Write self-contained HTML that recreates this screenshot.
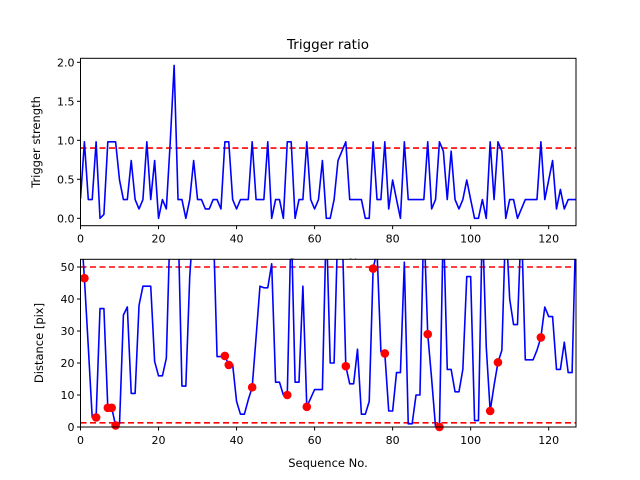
<!DOCTYPE html>
<html><head><meta charset="utf-8"><style>
body{margin:0;background:#fff}
svg{display:block;font-family:"DejaVu Sans","Liberation Sans",sans-serif}
</style></head><body>
<svg id="chart" width="640" height="480" viewBox="0 0 640 480"></svg>
<script>
const seqIdx = Array.from({length:128},(_,i)=>i);
const ratioVals = [0.25,0.98,0.24,0.24,0.98,0,0.05,0.98,0.98,0.98,0.49,0.24,0.24,0.74,0.24,0.12,0.24,0.98,0.24,0.74,0,0.24,0.12,0.98,1.96,0.24,0.24,0,0.24,0.74,0.24,0.24,0.12,0.12,0.24,0.24,0.12,0.98,0.98,0.24,0.12,0.24,0.24,0.24,0.98,0.24,0.24,0.24,0.98,0,0.24,0.24,0,0.98,0.98,0,0.24,0.24,0.98,0.24,0.12,0.24,0.74,0,0,0.24,0.74,0.86,0.98,0.24,0.24,0.24,0.24,0,0,0.98,0.24,0.24,0.98,0.12,0.49,0.24,0,0.98,0.24,0.24,0.24,0.24,0.24,0.98,0.12,0.24,0.98,0.86,0.24,0.86,0.24,0.12,0.24,0.49,0.24,0,0,0.24,0,0.98,0.24,0.98,0.86,0,0.24,0.24,0,0.12,0.24,0.24,0.24,0.24,0.98,0.24,0.49,0.74,0.12,0.37,0.12,0.24,0.24,0.24];
const distVals = [65,46.5,25,3,3,37,37,6,6,0.5,1,35,37.5,10.5,10.5,38,44,44,44,20.5,16,16,21.5,65,65,65,12.8,12.8,47,65,65,65,65,65,65,22,22,22.2,19.4,19.5,8,4,4,8.5,12.4,28,44,43.5,43.5,51,14,14,10,10,65,14,14,44,6.3,9,11.7,11.7,11.7,65,20,20,65,65,19,13.5,13.5,24.3,4,4,8,49.5,55,23.5,23,5,5,17,17,51.5,1,1,10,10,65,29,15,0,0,65,18,18,11,11,18,47,47,2,2,65,25,5,13,20.2,24,65,40,32,32,65,21,21,21,24,28,37.5,34.5,34.5,18,18,26.5,17,17,65];
const markIdx = [1,4,7,8,9,37,38,44,53,58,68,75,78,89,92,105,107,118];
const ratioThresh = [0.9];
const distThresh = [50,1.3];
const xTicks = [0,20,40,60,80,100,120];
const ratioTicks = [0,0.5,1,1.5,2];
const ratioTickLabels = ["0.0","0.5","1.0","1.5","2.0"];
const distTicks = [0,10,20,30,40,50];

const NS="http://www.w3.org/2000/svg";
const svg=document.getElementById('chart');
function mk(tag,attrs,parent){const e=document.createElementNS(NS,tag);for(const k in attrs)e.setAttribute(k,attrs[k]);(parent||svg).appendChild(e);return e;}
const L=80.5,R=576;
const xS=v=>L+(v-0)/(127-0)*(R-L);
const top1=58.3,bot1=225.7, yS1=v=>218.3-(v)/2*(218.3-62.3);
const top2=259.3,bot2=427, yS2=v=>427-(v)/50*(427-267);

const defs=mk('defs',{});
const c1=mk('clipPath',{id:'c1'},defs);mk('rect',{x:L,y:top1,width:R-L,height:bot1-top1},c1);
const c2=mk('clipPath',{id:'c2'},defs);mk('rect',{x:L,y:top2,width:R-L,height:bot2-top2},c2);

function txt(x,y,s,anchor,size,name,rot){const t=mk('text',{x:x,y:y,'text-anchor':anchor,'font-size':size,fill:'#000'});if(rot)t.setAttribute('transform',rot);t.textContent=s;return t;}

txt(328,49,'Trigger ratio','middle',13.5,'chart-title');
txt(328,267,'Sequence No.','middle',11.5,'top-x-axis-title');

function panel(yS,top,bot,vals,thresh,yt,ytl,clip,pre,isDist){
  const bg=mk('rect',{x:L,y:top,width:R-L,height:bot-top,fill:'#fff'});
  
  const g=mk('g',{'clip-path':'url(#'+clip+')'});
  thresh.forEach((t,k)=>{const l=mk('line',{x1:L,x2:R,y1:yS(t),y2:yS(t),stroke:'#ff0000','stroke-width':1.6,'stroke-dasharray':'6,3.5'},g);
    });
  const d=vals.map((v,i)=>(i?'L':'M')+xS(seqIdx[i]).toFixed(2)+','+yS(v).toFixed(2)).join('');
  const p=mk('path',{d:d,fill:'none',stroke:'#0000ff','stroke-width':1.6,'stroke-linejoin':'round'},g);
  
  if(isDist){markIdx.forEach(i=>{const c=mk('circle',{cx:xS(seqIdx[i]),cy:yS(vals[i]),r:4.3,fill:'#ff0000'},svg);
    });}
  const fr=mk('rect',{x:L,y:top,width:R-L,height:bot-top,fill:'none',stroke:'#000','stroke-width':1});
  
  xTicks.forEach(t=>{mk('line',{x1:xS(t),x2:xS(t),y1:bot,y2:bot+3.5,stroke:'#000'});
    txt(xS(t),bot+17,String(t),'middle',11,pre+'-x-tick-label');});
  yt.forEach((t,k)=>{mk('line',{x1:L-3.5,x2:L,y1:yS(t),y2:yS(t),stroke:'#000'});
    txt(L-6,yS(t)+4,ytl[k],'end',11,pre+'-y-tick-label');});
}
panel(yS1,top1,bot1,ratioVals,ratioThresh,ratioTicks,ratioTickLabels,'c1','ratio',false);
txt(40,142,'Trigger strength','middle',11.5,'top-y-axis-title','rotate(-90 40 142)');
panel(yS2,top2,bot2,distVals,distThresh,distTicks,distTicks.map(String),'c2','distance',true);
txt(43,343,'Distance [pix]','middle',11.5,'bottom-y-axis-title','rotate(-90 43 343)');
txt(328,467,'Sequence No.','middle',11.5,'bottom-x-axis-title');
</script>
</body></html>
